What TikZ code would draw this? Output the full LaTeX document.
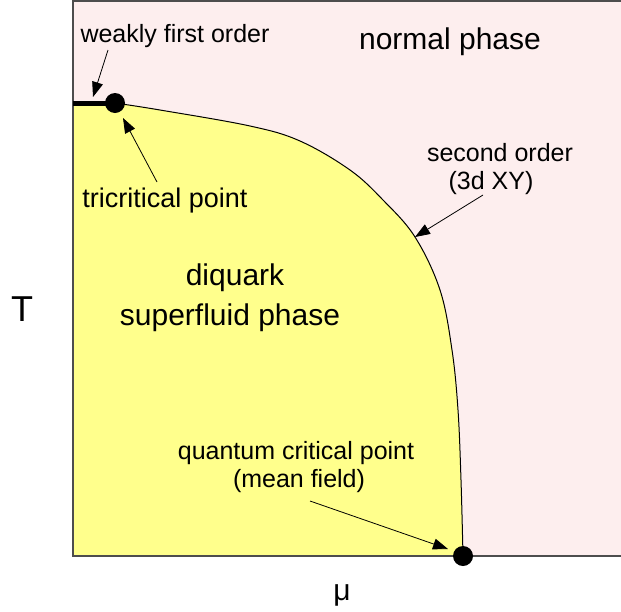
\documentclass[tikz,border=0pt]{standalone}
\usepackage{fontspec}
\setmainfont{Liberation Sans}
\usetikzlibrary{arrows.meta}
\definecolor{pinkbg}{HTML}{FDEEEE}
\definecolor{yellowbg}{HTML}{FFFF8C}
\definecolor{framegray}{HTML}{4D4D4D}
\begin{document}
\begin{tikzpicture}[x=1pt,y=-1pt,
  lbl/.style={anchor=base,inner sep=0pt,font=\fontsize{25}{30}\selectfont},
  biglbl/.style={anchor=base,inner sep=0pt,font=\fontsize{30}{36}\selectfont},
  dotnode/.style={circle,fill=black,inner sep=0pt,minimum size=20pt},
  ptr/.style={-{Triangle[length=15pt,width=11pt]},line width=0.8pt}]
\useasboundingbox (0,0) rectangle (621,611);
% backgrounds
\fill[pinkbg] (73,1) rectangle (621,556);
\fill[yellowbg] (73,103) -- plot[smooth,tension=0.6] coordinates{(115,103) (160,110) (250,126) (300,141) (350,170) (383,200) (415,237) (440,290) (452,350) (458,410) (461,480) (463,556)}
  -- (73,556) -- cycle;
% phase boundary
\draw[line width=1pt] plot[smooth,tension=0.6] coordinates{(115,103) (160,110) (250,126) (300,141) (350,170) (383,200) (415,237) (440,290) (452,350) (458,410) (461,480) (463,556)};
% frame
\draw[framegray,line width=1.8pt] (621,1) -- (73,1) -- (73,556) -- (621,556);
% first order line
\coordinate (wl) at (73,103);
\node[dotnode] (tcp) at (115,103) {};
\draw[line width=5pt] (wl) -- (tcp.center);
\node[dotnode] (qcp) at (463,556) {};
% labels
\node[biglbl] (normal) at (450,49) {normal phase};
\node[lbl] (weak) at (175,42) {weakly first order};
\node[lbl,font=\fontsize{27}{32}\selectfont] (tri) at (165,207) {tricritical point};
\node[lbl] (sec1) at (500,161) {second order};
\node[lbl] (sec2) at (491,189) {(3d XY)};
\node[biglbl] (diq1) at (235,285) {diquark};
\node[biglbl] (diq2) at (230,325) {superfluid phase};
\node[lbl] (q1) at (296,459) {quantum critical point};
\node[lbl] (q2) at (299,487) {(mean field)};
\node[anchor=base,inner sep=0pt,font=\fontsize{36}{40}\selectfont] (T) at (22,321) {T};
\node[anchor=base,inner sep=0pt,font=\fontsize{30}{36}\selectfont] (mu) at (342,600) {μ};
% arrow tips
\coordinate (wtip) at (93,97);
\coordinate (wstart) at (108,50);
\coordinate (ttip) at (123,118);
\coordinate (tstart) at (157,182);
\coordinate (stip) at (415,237);
\coordinate (sstart) at (483,195);
\coordinate (qtip) at (448,549);
\coordinate (qstart) at (310,501);
\draw[ptr] (wstart) -- (wtip);
\draw[ptr] (tstart) -- (ttip);
\draw[ptr] (sstart) -- (stip);
\draw[ptr] (qstart) -- (qtip);
\end{tikzpicture}
\end{document}
